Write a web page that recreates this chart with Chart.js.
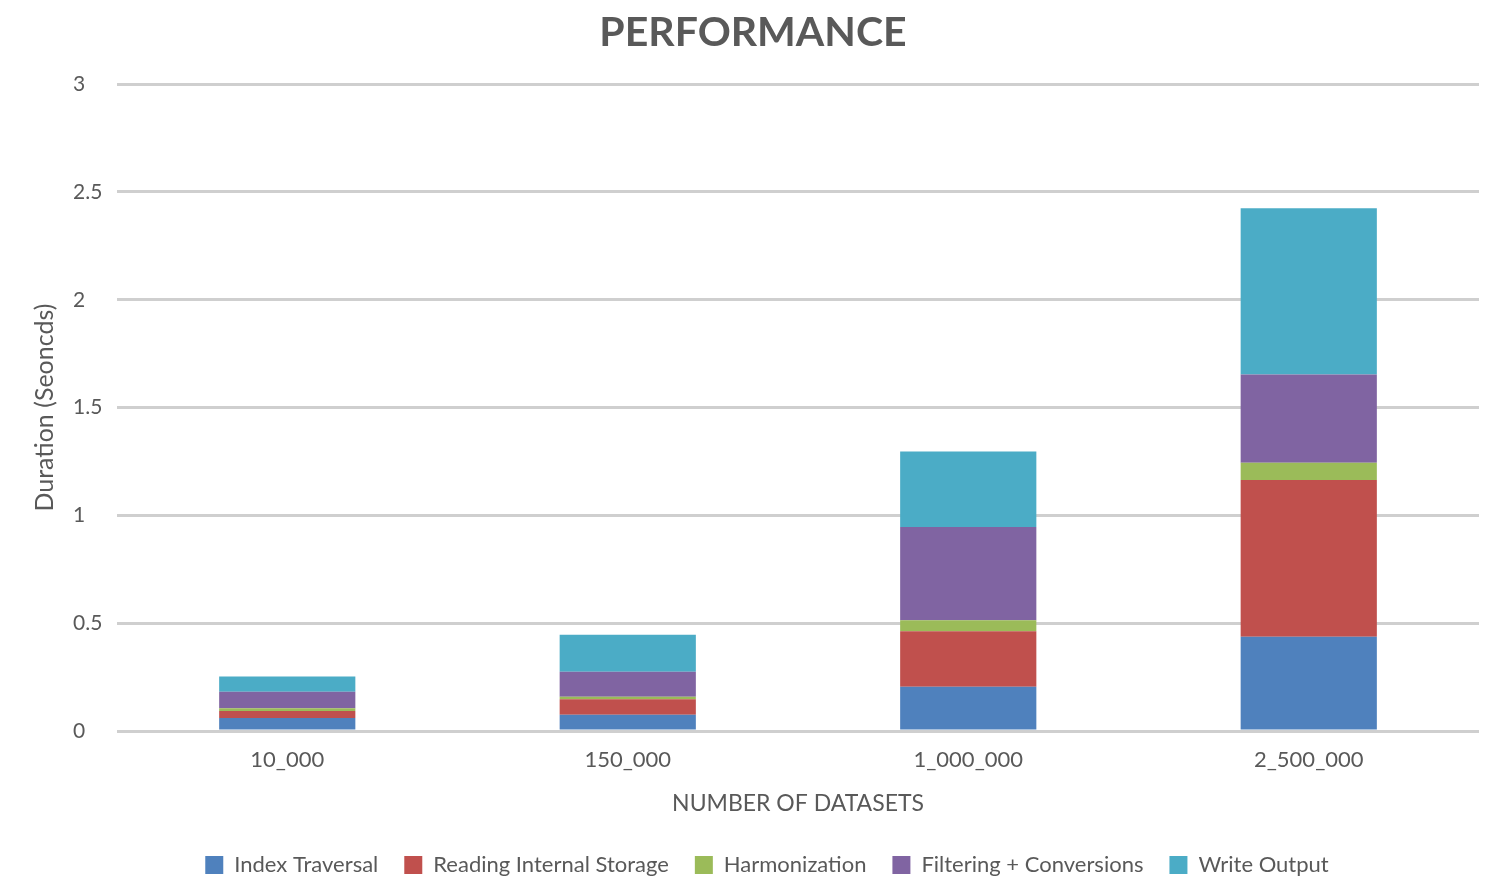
<!DOCTYPE html>
<html>
<head>
<meta charset="utf-8">
<script src="https://cdn.jsdelivr.net/npm/chart.js@4/dist/chart.umd.min.js"></script>
<style>
html,body{margin:0;padding:0;background:#fff;}
#wrap{width:1494px;height:876px;position:relative;}
</style>
</head>
<body>
<div id="wrap"><canvas id="c" width="1494" height="876"></canvas></div>
<script>
const categories = ['10_000', '150_000', '1_000_000', '2_500_000'];
const indexTraversal = [0.06, 0.075, 0.205, 0.437];
const readingInternalStorage = [0.033, 0.072, 0.258, 0.727];
const harmonization = [0.012, 0.012, 0.051, 0.08];
const filteringConversions = [0.077, 0.116, 0.432, 0.41];
const writeOutput = [0.071, 0.171, 0.35, 0.771];
const seriesNames = ['Index Traversal', 'Reading Internal Storage', 'Harmonization', 'Filtering + Conversions', 'Write Output'];
const seriesColors = ['#4f81bd', '#c0504d', '#9bbb59', '#8064a2', '#4bacc6'];
const yTicks = [0, 0.5, 1, 1.5, 2, 2.5, 3];

const seriesData = [indexTraversal, readingInternalStorage, harmonization, filteringConversions, writeOutput];
const FONT = "Lato, 'Open Sans', sans-serif";
const TXT = '#595959';

const legendShift = {
  id: 'legendShift',
  afterLayout(chart) {
    const lg = chart.legend;
    if (lg) { lg.left += 14; lg.right += 14; }
  }
};

new Chart(document.getElementById('c'), {
  type: 'bar',
  data: {
    labels: categories,
    datasets: seriesData.map((d, i) => ({
      label: seriesNames[i],
      data: d,
      backgroundColor: seriesColors[i],
      borderWidth: 0,
      categoryPercentage: 1.0,
      barPercentage: 0.4,
      yAxisID: 'y'
    }))
  },
  plugins: [legendShift],
  options: {
    responsive: false,
    animation: false,
    layout: { padding: { left: 12, right: 0, top: 0, bottom: -10 } },
    plugins: {
      title: {
        display: true,
        text: 'PERFORMANCE',
        color: TXT,
        font: { family: FONT, size: 41, weight: 'bold' },
        padding: { top: 8, bottom: 27 }
      },
      legend: {
        position: 'bottom',
        labels: {
          color: TXT,
          font: { family: FONT, size: 22 },
          boxWidth: 18,
          boxHeight: 18,
          padding: 26
        }
      },
      tooltip: { enabled: false }
    },
    scales: {
      x: {
        stacked: true,
        grid: { display: false, drawTicks: false },
        border: { display: false },
        ticks: { color: TXT, font: { family: FONT, size: 22 }, padding: 16 },
        title: {
          display: true,
          text: 'NUMBER OF DATASETS',
          color: TXT,
          font: { family: FONT, size: 23 },
          padding: { top: 0, bottom: 11 }
        }
      },
      yTitle: {
        type: 'linear',
        position: 'left',
        weight: 5,
        min: 0,
        max: 1,
        afterFit: (scale) => { scale.width = 61; },
        grid: { display: false, drawTicks: false },
        border: { display: false },
        ticks: { display: false },
        title: {
          display: true,
          text: 'Duration (Seoncds)',
          color: TXT,
          font: { family: FONT, size: 25 },
          padding: { top: 18, bottom: 0 }
        }
      },
      y: {
        stacked: true,
        position: 'left',
        weight: 0,
        min: 0,
        max: 3,
        afterBuildTicks: (scale) => { scale.ticks = yTicks.map(v => ({ value: v })); },
        afterFit: (scale) => { scale.width = 44; },
        grid: { color: '#cfcfcf', lineWidth: 3, drawTicks: false },
        border: { display: false },
        ticks: {
          color: TXT,
          font: { family: FONT, size: 21 },
          padding: 0,
          crossAlign: 'far',
          callback: (v) => String(v)
        }
      },
      rightSpace: {
        type: 'linear',
        position: 'right',
        min: 0,
        max: 1,
        afterFit: (scale) => { scale.width = 15; },
        grid: { display: false, drawTicks: false },
        border: { display: false },
        ticks: { display: false }
      }
    }
  }
});
</script>
</body>
</html>
